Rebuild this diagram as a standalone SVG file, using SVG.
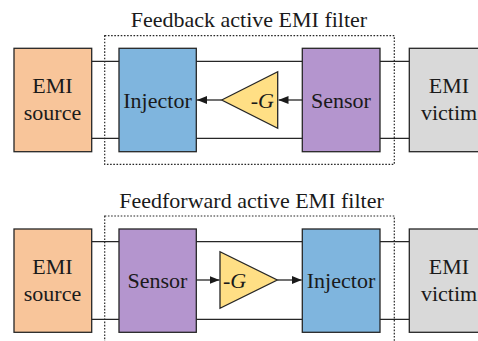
<svg xmlns="http://www.w3.org/2000/svg" width="478" height="341" viewBox="0 0 478 341">
<defs>
<style>
.t{font-family:"Liberation Serif","Times New Roman",serif;font-size:22px;fill:#1a1a1a;text-anchor:middle}
.b{stroke:#262626;stroke-width:1.3}
.w{stroke:#262626;stroke-width:1.3;fill:none}
.d{fill:none;stroke:#262626;stroke-width:1.2;stroke-dasharray:1.6 1.6}
.src{fill:#F8C59A}.inj{fill:#7FB5DE}.sen{fill:#B495CE}.amp{fill:#FFDF85}.vic{fill:#D9D9D9}
</style>
<marker id="ah" viewBox="0 0 10 8" refX="10" refY="4" markerWidth="10" markerHeight="8" markerUnits="userSpaceOnUse" orient="auto">
<path d="M0,0 L10,4 L0,8 Z" fill="#1a1a1a"/>
</marker>
</defs>
<rect width="478" height="341" fill="#fff"/>
<text class="t" x="249" y="27">Feedback active EMI filter</text>
<text class="t" x="251.5" y="208.3">Feedforward active EMI filter</text>
<g id="wires">
<line class="w" x1="92" y1="61.3" x2="409" y2="61.3"/>
<line class="w" x1="92" y1="138.3" x2="409" y2="138.3"/>
<line class="w" x1="92" y1="241.7" x2="409" y2="241.7"/>
<line class="w" x1="92" y1="319.3" x2="409" y2="319.3"/>
</g>
<rect class="d" x="104.7" y="35.7" width="289.6" height="128.6"/>
<rect class="d" x="104.7" y="216" width="289.6" height="140"/>
<g id="src1"><rect class="b src" x="14" y="48.3" width="77.7" height="103.4"/><text class="t" x="52.5" y="93">EMI</text><text class="t" x="52.5" y="119.5">source</text></g>
<g id="inj1"><rect class="b inj" x="119" y="48.3" width="77.3" height="103.4"/><text class="t" x="157.5" y="107.5">Injector</text></g>
<g id="amp1"><polygon class="b amp" points="221.7,100 277.7,71.7 277.7,128.3"/><text class="t" x="274" y="107.5" style="text-anchor:end">-<tspan font-style="italic">G</tspan></text></g>
<g id="sen1"><rect class="b sen" x="302.3" y="48.3" width="77.7" height="103.4"/><text class="t" x="341" y="107.5">Sensor</text></g>
<g id="vic1"><rect class="b vic" x="409.3" y="48.3" width="78" height="103.4"/><text class="t" x="449" y="93">EMI</text><text class="t" x="449" y="119.5">victim</text></g>
<g id="src2"><rect class="b src" x="14" y="229" width="77.7" height="103.3"/><text class="t" x="52.5" y="274">EMI</text><text class="t" x="52.5" y="300.5">source</text></g>
<g id="sen2"><rect class="b sen" x="119" y="229" width="77.3" height="103.3"/><text class="t" x="157.5" y="288">Sensor</text></g>
<g id="amp2"><polygon class="b amp" points="220,251.7 220,308.3 277.3,280"/><text class="t" x="223" y="288" style="text-anchor:start">-<tspan font-style="italic">G</tspan></text></g>
<g id="inj2"><rect class="b inj" x="302.3" y="229" width="77.7" height="103.3"/><text class="t" x="341" y="288">Injector</text></g>
<g id="vic2"><rect class="b vic" x="409.3" y="229" width="78" height="103.3"/><text class="t" x="449" y="274">EMI</text><text class="t" x="449" y="300.5">victim</text></g>
<g id="connectors">
<line class="w" x1="302.3" y1="100" x2="278.5" y2="100" marker-end="url(#ah)"/>
<line class="w" x1="221.7" y1="100" x2="197" y2="100" marker-end="url(#ah)"/>
<line class="w" x1="196.3" y1="280" x2="219.5" y2="280" marker-end="url(#ah)"/>
<line class="w" x1="277.3" y1="280" x2="301.7" y2="280" marker-end="url(#ah)"/>
</g>
</svg>
